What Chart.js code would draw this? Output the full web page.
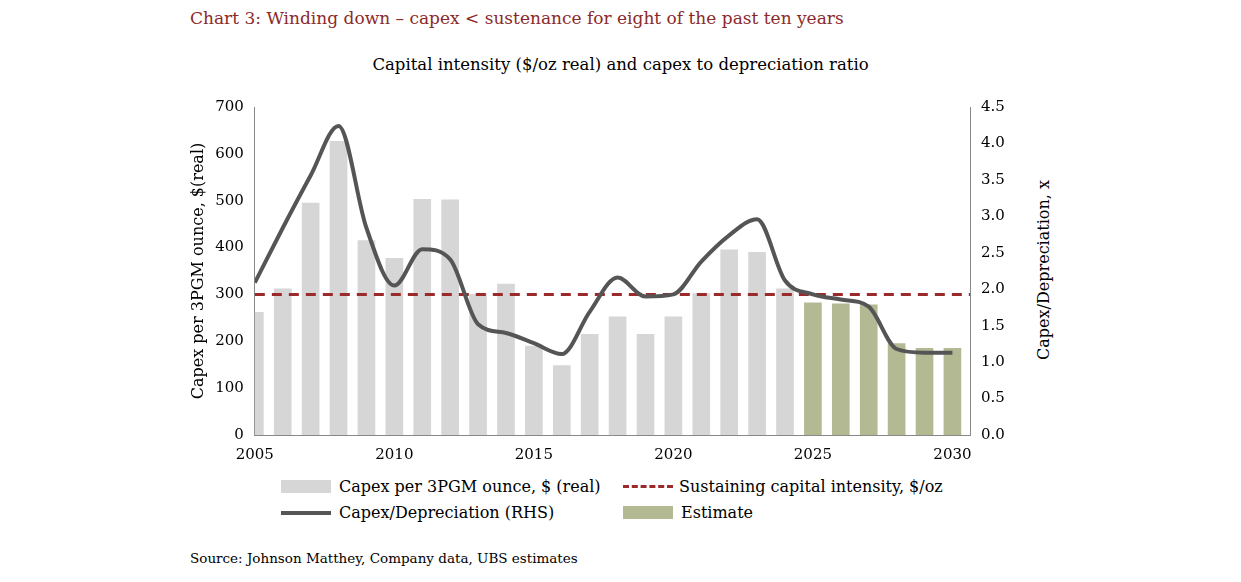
<!DOCTYPE html>
<html><head><meta charset="utf-8">
<script src="https://cdn.jsdelivr.net/npm/chart.js@4/dist/chart.umd.min.js"></script>
<style>
body{margin:0;width:1241px;height:582px;background:#fff;font-family:"DejaVu Serif",serif;position:relative;overflow:hidden}
#t1{position:absolute;left:190px;top:8px;font-size:17px;color:#8b2a2a}
#t2{position:absolute;left:0;width:1241px;top:55px;text-align:center;font-size:16.5px;color:#000}
#wrap{position:absolute;left:185px;top:95px;width:845px;height:372px}
#src{position:absolute;left:190px;top:550px;font-size:13.5px}
#rt{position:absolute;left:1043px;top:270px;font-size:16px;transform:translate(-50%,-50%) rotate(-90deg);white-space:nowrap}
.lg{position:absolute;font-size:16px;display:flex;align-items:center}
.sw{display:inline-block;margin-right:8px}
</style></head><body>
<div id="t1">Chart 3: Winding down – capex &lt; sustenance for eight of the past ten years</div>
<div id="t2">Capital intensity ($/oz real) and capex to depreciation ratio</div>
<div id="wrap"><canvas id="c"></canvas></div>
<div id="rt">Capex/Depreciation, x</div>
<div class="lg" style="left:281px;top:477px"><span class="sw" style="width:50px;height:13px;background:#d6d6d6"></span>Capex per 3PGM ounce, $ (real)</div>
<div class="lg" style="left:623px;top:477px"><span class="sw" style="width:50px;height:0;border-top:3px dashed #9b2a2a;margin-right:6px"></span>Sustaining capital intensity, $/oz</div>
<div class="lg" style="left:281px;top:503px"><span class="sw" style="width:50px;height:4px;background:#555"></span>Capex/Depreciation (RHS)</div>
<div class="lg" style="left:623px;top:503px"><span class="sw" style="width:50px;height:13px;background:#b2b993"></span>Estimate</div>
<div id="src">Source: Johnson Matthey, Company data, UBS estimates</div>
<script>
const years=[2005,2006,2007,2008,2009,2010,2011,2012,2013,2014,2015,2016,2017,2018,2019,2020,2021,2022,2023,2024,2025,2026,2027,2028,2029,2030];
const capex=[262,312,495,627,415,377,503,502,300,322,190,148,215,252,215,252,302,395,390,312,282,280,278,195,185,185];
const ratio=[2.09,2.84,3.56,4.24,2.84,2.05,2.55,2.41,1.52,1.40,1.26,1.11,1.69,2.16,1.90,1.93,2.38,2.74,2.96,2.12,1.93,1.86,1.76,1.18,1.13,1.13];
const sustaining=300;
const firstEstimate=2025;
const hist=[],est=[];
years.forEach((y,i)=>{(y<firstEstimate?hist:est).push({x:y,y:capex[i]});});
const font={family:"DejaVu Serif",size:15};
new Chart(document.getElementById('c'),{
 data:{datasets:[
  {type:'line',data:years.map((y,i)=>({x:y,y:ratio[i]})),yAxisID:'y2',borderColor:'#555',borderWidth:4,pointRadius:0,cubicInterpolationMode:'monotone',order:0},
  {type:'line',data:[{x:2005,y:sustaining},{x:2030.63,y:sustaining}],yAxisID:'y',borderColor:'#9b2a2a',borderWidth:3,borderDash:[10,7],pointRadius:0,order:1},
  {type:'bar',data:hist,yAxisID:'y',backgroundColor:'#d6d6d6',grouped:false,barThickness:17,order:2},
  {type:'bar',data:est,yAxisID:'y',backgroundColor:'#b2b993',grouped:false,barThickness:17,order:2}
 ]},
 options:{responsive:true,maintainAspectRatio:false,animation:false,
  layout:{padding:{top:12,right:0}},
  plugins:{legend:{display:false},tooltip:{enabled:false}},
  scales:{
   x:{type:'linear',offset:false,min:2005,max:2030.63,grid:{display:false,offset:false},border:{color:'#888'},
      afterBuildTicks:a=>{a.ticks=[2005,2010,2015,2020,2025,2030].map(v=>({value:v}));},
      ticks:{color:'#000',font,callback:v=>String(v),maxRotation:0}},
   y:{min:0,max:700,grid:{display:false},border:{color:'#888'},ticks:{stepSize:100,color:'#000',font},
      title:{display:true,text:'Capex per 3PGM ounce, $(real)',color:'#000',font:{family:"DejaVu Serif",size:16}}},
   y2:{position:'right',min:0,max:4.5,grid:{display:false},border:{color:'#888'},ticks:{stepSize:0.5,color:'#000',font,callback:v=>v.toFixed(1)},
      afterFit:s=>{s.width=60;}}
  }}
});
</script></body></html>
